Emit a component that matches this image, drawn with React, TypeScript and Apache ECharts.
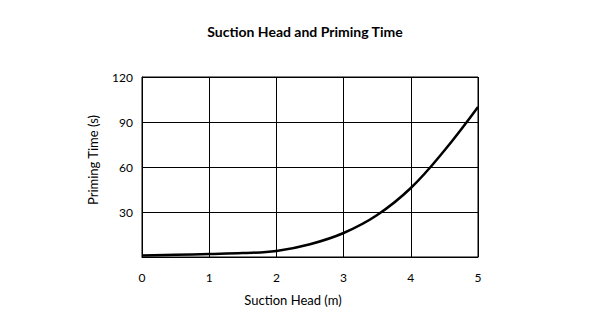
import React, { useEffect, useRef } from "react";
import * as echarts from "echarts";

const xValues = [0, 0.5, 1, 1.5, 2, 2.5, 3, 3.5, 4, 4.5, 5];
const yValues = [1, 1.5, 2, 2.6, 4, 8.5, 16, 28, 46, 71, 100];
const titleText = "Suction Head and Priming Time";
const xName = "Suction Head (m)";
const yName = "Priming Time (s)";

export default function App() {
  const ref = useRef<HTMLDivElement>(null);
  useEffect(() => {
    const chart = echarts.init(ref.current!, null, { renderer: "svg" });
    const font = "Lato, 'Open Sans', sans-serif";
    chart.setOption({
      animation: false,
      backgroundColor: "#ffffff",
      title: {
        text: titleText,
        left: 300,
        top: 19,
        textAlign: "center",
        textStyle: { fontFamily: font, fontSize: 14, fontWeight: "bold", color: "#000" },
      },
      grid: { left: 142, right: 121, top: 77, bottom: 66 },
      xAxis: {
        type: "value",
        min: 0,
        max: 5,
        interval: 1,
        axisLine: { show: true, lineStyle: { color: "#000", width: 1 } },
        axisTick: { show: false },
        splitLine: { show: true, lineStyle: { color: "#000", width: 1 } },
        axisLabel: { fontFamily: font, fontSize: 12, color: "#000", margin: 14 },
      },
      yAxis: {
        type: "value",
        min: 0,
        max: 120,
        interval: 30,
        axisLine: { show: true, lineStyle: { color: "#000", width: 1 } },
        axisTick: { show: false },
        splitLine: { show: true, lineStyle: { color: "#000", width: 1 } },
        axisLabel: {
          fontFamily: font,
          fontSize: 12,
          color: "#000",
          margin: 9,
          formatter: (v: number) => (v === 0 ? "" : String(v)),
        },
      },
      graphic: [
        {
          type: "rect",
          shape: { x: 142, y: 77, width: 336, height: 180 },
          style: { fill: "none", stroke: "#000", lineWidth: 1 },
          silent: true,
        },
        {
          type: "text",
          x: 293,
          y: 300,
          style: {
            text: xName,
            font: "13px " + font,
            fill: "#000",
            textAlign: "center",
            textVerticalAlign: "middle",
          },
        },
        {
          type: "text",
          x: 93,
          y: 160,
          rotation: Math.PI / 2,
          style: {
            text: yName,
            font: "13px " + font,
            fill: "#000",
            textAlign: "center",
            textVerticalAlign: "middle",
          },
        },
      ],
      series: [
        {
          type: "line",
          data: xValues.map((x, i) => [x, yValues[i]]),
          smooth: 0.4,
          showSymbol: false,
          lineStyle: { color: "#000", width: 2.5 },
        },
      ],
    });
    return () => chart.dispose();
  }, []);
  return (
    <div
      ref={ref}
      style={{ position: "fixed", left: 0, top: 0, width: 599, height: 323 }}
    />
  );
}
